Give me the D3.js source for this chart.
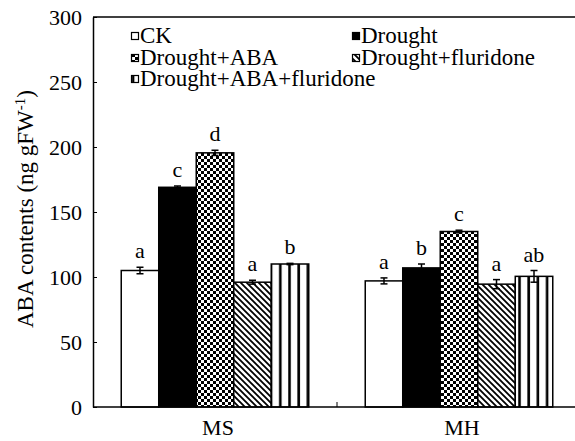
<!DOCTYPE html>
<html>
<head lang="en">
	<meta charset="UTF-8">
	<title></title>
	<script src="https://cdn.jsdelivr.net/npm/d3@7"></script>
	<style>
		body { margin: 0; background: #fff; }
		text { font-family: "Liberation Serif", "Times New Roman", serif; fill: #000; }
	</style>
</head>
<body>

<script>

	var categories = ['MS', 'MH'];
	var treatments = ['CK', 'Drought', 'Drought+ABA', 'Drought+fluridone', 'Drought+ABA+fluridone'];
	var msValues = [105, 169, 195.5, 96, 110];
	var mhValues = [97, 107, 135, 94.5, 100.5];
	var msErrors = [2.5, 1, 2, 1.5, 0.5];
	var mhErrors = [2.3, 3, 1, 3.5, 4.5];
	var msLetters = ['a', 'c', 'd', 'a', 'b'];
	var mhLetters = ['a', 'b', 'c', 'a', 'ab'];
	var yTicks = [0, 50, 100, 150, 200, 250, 300];

	var W = 575, H = 441;
	var plotLeft = 93, plotTop = 17, plotBottom = 407, plotRight = 581;

	var svg = d3.select('body').append('svg').attr('width', W).attr('height', H);

	// fill patterns
	var defs = svg.append('defs');
	var checker = defs.append('pattern').attr('id', 'checker')
			.attr('patternUnits', 'userSpaceOnUse').attr('width', 6).attr('height', 6);
	checker.append('rect').attr('width', 6).attr('height', 6).style('fill', '#fff');
	checker.append('rect').attr('width', 3).attr('height', 3).style('fill', '#000');
	checker.append('rect').attr('x', 3).attr('y', 3).attr('width', 3).attr('height', 3).style('fill', '#000');

	var diag = defs.append('pattern').attr('id', 'diag')
			.attr('patternUnits', 'userSpaceOnUse').attr('width', 6).attr('height', 6);
	diag.append('rect').attr('width', 6).attr('height', 6).style('fill', '#fff');
	diag.append('path').attr('d', 'M-1,-1 L7,7 M-4,2 L4,10 M2,-4 L10,4')
			.style('stroke', '#000').style('stroke-width', 1.8);

	var vert = defs.append('pattern').attr('id', 'vert')
			.attr('patternUnits', 'userSpaceOnUse').attr('width', 9.2).attr('height', 10);
	vert.append('rect').attr('width', 9.2).attr('height', 10).style('fill', '#fff');
	vert.append('rect').attr('x', 3).attr('width', 2.6).attr('height', 10).style('fill', '#000');

	var fills = ['#fff', '#000', 'url(#checker)', 'url(#diag)', 'url(#vert)'];

	var y = d3.scaleLinear().domain([0, 300]).range([plotBottom, plotTop]);
	var x0 = d3.scaleBand().domain(categories).range([plotLeft, plotRight]).padding(0);
	var x1 = d3.scaleBand().domain(treatments).range([0, x0.bandwidth()]).paddingInner(0).paddingOuter(0.753);

	var groups = [
		{cat: 'MS', values: msValues, errors: msErrors, letters: msLetters},
		{cat: 'MH', values: mhValues, errors: mhErrors, letters: mhLetters}
	];

	groups.forEach(function (g) {
		var gx = x0(g.cat);
		treatments.forEach(function (t, i) {
			var bx = gx + x1(t);
			var v = g.values[i];
			svg.append('rect')
					.attr('x', bx).attr('y', y(v))
					.attr('width', x1.bandwidth()).attr('height', y(0) - y(v))
					.style('fill', fills[i]).style('stroke', '#000').style('stroke-width', 1.5);
			var cx = bx + x1.bandwidth() / 2;
			var e = g.errors[i];
			svg.append('line').attr('x1', cx).attr('x2', cx)
					.attr('y1', y(v + e)).attr('y2', y(v - e))
					.style('stroke', '#000').style('stroke-width', 1.5);
			[v + e, v - e].forEach(function (yy) {
				svg.append('line').attr('x1', cx - 3.5).attr('x2', cx + 3.5)
						.attr('y1', y(yy)).attr('y2', y(yy))
						.style('stroke', '#000').style('stroke-width', 1.5);
			});
			svg.append('text').attr('x', cx).attr('y', y(v + e) - 9)
					.attr('text-anchor', 'middle').style('font-size', '22px')
					.text(g.letters[i]);
		});
	});

	// axes
	var yAxis = svg.append('g').attr('transform', 'translate(' + plotLeft + ',0)')
			.call(d3.axisLeft(y).tickValues(yTicks).tickSizeInner(-4).tickSizeOuter(0).tickPadding(11));
	yAxis.select('.domain').style('stroke', '#000').style('stroke-width', 1.5);
	yAxis.selectAll('.tick line').style('stroke', '#000').style('stroke-width', 1);
	yAxis.selectAll('.tick text').style('font-size', '22px').style('font-family', '"Liberation Serif", serif');

	var xAxis = svg.append('g').attr('transform', 'translate(0,' + plotBottom + ')')
			.call(d3.axisBottom(x0).tickSize(0).tickPadding(12));
	xAxis.select('.domain').attr('d', 'M' + plotLeft + ',0H' + W).style('stroke', '#000').style('stroke-width', 1.5);
	xAxis.selectAll('.tick text').attr('dx', 3).style('font-size', '22px').style('font-family', '"Liberation Serif", serif');
	svg.append('line').attr('x1', x0('MH')).attr('x2', x0('MH'))
			.attr('y1', plotBottom).attr('y2', plotBottom - 5)
			.style('stroke', '#000').style('stroke-width', 1);

	// top frame line
	svg.append('line').attr('x1', plotLeft).attr('x2', W).attr('y1', plotTop).attr('y2', plotTop)
			.style('stroke', '#000').style('stroke-width', 1.5);

	// y label
	var ylab = svg.append('text').attr('transform', 'translate(33,209) rotate(-90)')
			.attr('text-anchor', 'middle').style('font-size', '23px');
	ylab.append('tspan').text('ABA contents (ng gFW');
	ylab.append('tspan').attr('dy', -8).style('font-size', '15px').text('-1');
	ylab.append('tspan').attr('dy', 8).text(')');

	// legend
	var legendPos = [[131, 43], [352, 43], [131, 65], [352, 65], [131, 86]];
	treatments.forEach(function (t, i) {
		var p = legendPos[i];
		svg.append('rect').attr('x', p[0] + 0.5).attr('y', p[1] - 10.5)
				.attr('width', 7).attr('height', 7)
				.style('fill', fills[i]).style('stroke', '#000').style('stroke-width', 1.2);
		svg.append('text').attr('x', p[0] + 9).attr('y', p[1])
				.style('font-size', '23px').text(t);
	});

</script>

</body>
</html>
